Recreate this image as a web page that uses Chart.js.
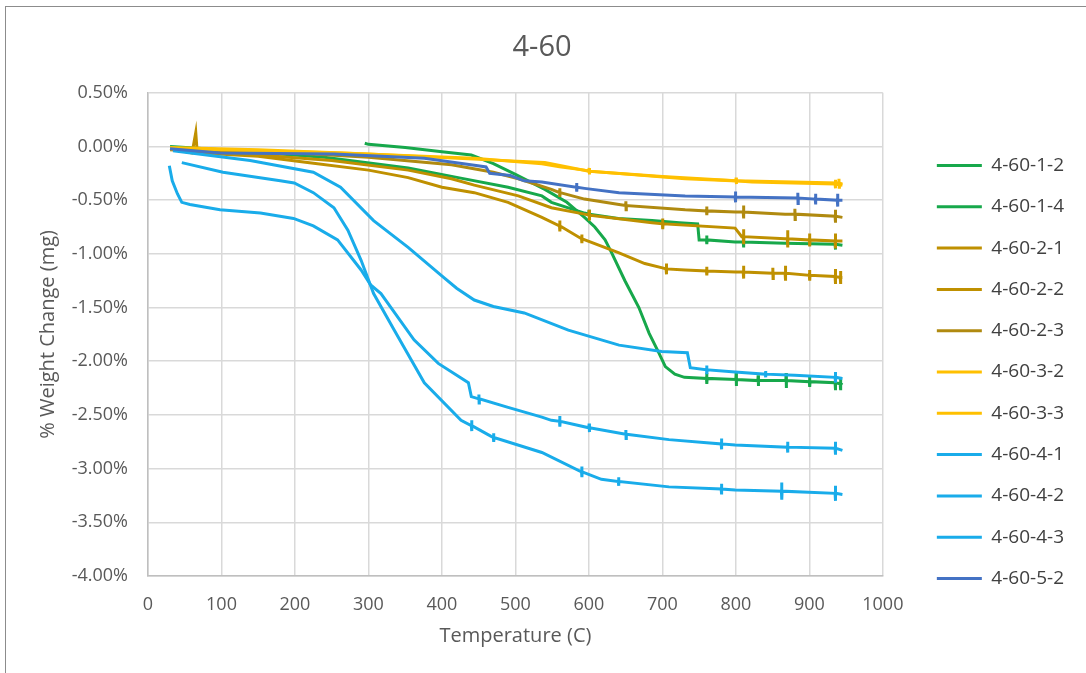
<!DOCTYPE html>
<html>
<head>
<meta charset="utf-8">
<script src="https://cdn.jsdelivr.net/npm/chart.js@4"></script>
<style>
  html, body { margin: 0; padding: 0; background: #ffffff; }
  #wrap { position: relative; width: 1086px; height: 673px; overflow: hidden; background: #ffffff; }
  #frame { position: absolute; left: 5px; top: 6px; width: 1200px; height: 800px; border: 1px solid #8c8c8c; box-sizing: border-box; }
  #c { position: absolute; left: 0; top: 0; }
</style>
</head>
<body>
<div id="wrap">
  <div id="frame"></div>
  <canvas id="c" width="1086" height="673"></canvas>
</div>
<script>
// ---- chart text ----
const chartTitle = '4-60';
const xTitle = 'Temperature (C)';
const yTitle = '% Weight Change (mg)';

// ---- series names ----
const seriesNames = ['4-60-1-2','4-60-1-4','4-60-2-1','4-60-2-2','4-60-2-3','4-60-3-2','4-60-3-3','4-60-4-1','4-60-4-2','4-60-4-3','4-60-5-2'];
const seriesColors = ['#17A84B','#17A84B','#BF9000','#BF9000','#B08A10','#FFC000','#FFC000','#19ACEA','#19ACEA','#19ACEA','#4472C4'];

// ---- data: [temperature C, % weight change] (narrow spikes) ----
const s_1_2 = [[295,0.03],[300,0.02],[350,-0.01],[400,-0.05],[440,-0.08],[470,-0.16],[500,-0.26],[540,-0.40],[570,-0.52],[594,-0.66],[608,-0.75],[622,-0.87],[631,-0.99],[649,-1.25],[668,-1.50],[682,-1.74],[695,-1.92],[704,-2.05],[717,-2.12],[730,-2.15],
  [760,-2.16],[760.3,-2.11],[760.6,-2.21],[760.9,-2.16],
  [800,-2.17],[800.3,-2.11],[800.6,-2.23],[800.9,-2.17],
  [830,-2.18],[830.3,-2.13],[830.6,-2.23],[830.9,-2.18],
  [868,-2.18],[868.3,-2.11],[868.6,-2.25],[868.9,-2.18],
  [900,-2.19],[900.3,-2.14],[900.6,-2.24],[900.9,-2.19],
  [935,-2.20],[935.3,-2.13],[935.6,-2.27],[935.9,-2.20],
  [942,-2.21],[942.3,-2.15],[942.6,-2.27],[942.9,-2.21],[945,-2.22]];
const s_1_4 = [[30,0.00],[100,-0.03],[240,-0.10],[354,-0.20],[422,-0.29],[490,-0.38],[536,-0.46],[549,-0.52],[594,-0.62],
  [600,-0.63],[600.3,-0.59],[600.6,-0.67],[600.9,-0.63],
  [640,-0.67],[686,-0.69],[723,-0.71],[748,-0.72],[750,-0.87],
  [760,-0.87],[760.3,-0.83],[760.6,-0.91],[760.9,-0.87],
  [799,-0.89],
  [810,-0.89],[810.3,-0.84],[810.6,-0.94],[810.9,-0.89],
  [867,-0.90],
  [935,-0.91],[935.3,-0.86],[935.6,-0.96],[935.9,-0.91],[945,-0.92]];
const s_2_1 = [[30,-0.02],[60,-0.06],[65,0.13],[67,-0.06],[150,-0.09],[217,-0.15],[300,-0.22],[354,-0.29],[400,-0.38],[444,-0.43],[490,-0.52],[536,-0.66],
  [560,-0.74],[560.3,-0.69],[560.6,-0.79],[560.9,-0.74],
  [590,-0.86],[590.3,-0.82],[590.6,-0.90],[590.9,-0.86],
  [641,-0.99],[676,-1.09],[700,-1.13],
  [705,-1.14],[705.3,-1.09],[705.6,-1.19],[705.9,-1.14],
  [731,-1.15],
  [760,-1.16],[760.3,-1.12],[760.6,-1.20],[760.9,-1.16],
  [800,-1.17],
  [810,-1.17],[810.3,-1.11],[810.6,-1.23],[810.9,-1.17],
  [850,-1.18],[850.3,-1.13],[850.6,-1.23],[850.9,-1.18],
  [867,-1.18],[867.3,-1.11],[867.6,-1.25],[867.9,-1.18],
  [900,-1.20],[900.3,-1.15],[900.6,-1.25],[900.9,-1.20],
  [935,-1.21],[935.3,-1.14],[935.6,-1.28],[935.9,-1.21],
  [942,-1.22],[942.3,-1.16],[942.6,-1.28],[942.9,-1.22],[945,-1.22]];
const s_2_2 = [[30,-0.03],[150,-0.08],[250,-0.13],[354,-0.22],[413,-0.30],[444,-0.36],[504,-0.46],[549,-0.57],[594,-0.63],
  [600,-0.64],[600.3,-0.59],[600.6,-0.69],[600.9,-0.64],
  [686,-0.71],
  [700,-0.72],[700.3,-0.67],[700.6,-0.77],[700.9,-0.72],
  [799,-0.76],[808,-0.84],
  [810,-0.84],[810.3,-0.77],[810.6,-0.91],[810.9,-0.84],
  [867,-0.86],
  [870,-0.86],[870.3,-0.78],[870.6,-0.94],[870.9,-0.86],
  [900,-0.87],[900.3,-0.81],[900.6,-0.93],[900.9,-0.87],
  [935,-0.88],[935.3,-0.81],[935.6,-0.95],[935.9,-0.88],[945,-0.88]];
const s_2_3 = [[30,-0.02],[200,-0.06],[300,-0.10],[413,-0.17],[470,-0.24],[504,-0.30],[549,-0.40],
  [560,-0.43],[560.3,-0.39],[560.6,-0.47],[560.9,-0.43],
  [594,-0.49],[641,-0.54],
  [650,-0.55],[650.3,-0.51],[650.6,-0.59],[650.9,-0.55],
  [731,-0.59],
  [760,-0.60],[760.3,-0.56],[760.6,-0.64],[760.9,-0.60],
  [800,-0.61],
  [810,-0.61],[810.3,-0.55],[810.6,-0.67],[810.9,-0.61],
  [867,-0.63],
  [880,-0.63],[880.3,-0.58],[880.6,-0.68],[880.9,-0.63],
  [935,-0.65],[935.3,-0.59],[935.6,-0.71],[935.9,-0.65],[945,-0.66]];
const s_3_2 = [[30,-0.02],[100,-0.03],[262,-0.06],[444,-0.11],[536,-0.16],[560,-0.19],[594,-0.22],
  [600,-0.23],[600.3,-0.20],[600.6,-0.26],[600.9,-0.23],
  [731,-0.30],
  [800,-0.32],[800.3,-0.29],[800.6,-0.35],[800.9,-0.32],
  [822,-0.33],
  [935,-0.35],[935.3,-0.31],[935.6,-0.39],[935.9,-0.35],[945,-0.36]];
const s_3_3 = [[30,-0.01],[150,-0.03],[300,-0.07],[450,-0.12],[540,-0.15],[600,-0.23],[700,-0.28],[800,-0.32],
  [940,-0.34],[940.3,-0.30],[940.6,-0.38],[940.9,-0.34],[945,-0.35]];
const s_4_1 = [[34,-0.04],[139,-0.13],[225,-0.24],[262,-0.38],[307,-0.69],[354,-0.94],[399,-1.20],[420,-1.32],[444,-1.43],[470,-1.49],[512,-1.55],[572,-1.71],[641,-1.85],[699,-1.91],[734,-1.92],[738,-2.06],
  [760,-2.08],[760.3,-2.04],[760.6,-2.12],[760.9,-2.08],
  [799,-2.10],
  [840,-2.12],[840.3,-2.09],[840.6,-2.15],[840.9,-2.12],
  [880,-2.13],
  [935,-2.15],[935.3,-2.10],[935.6,-2.20],[935.9,-2.15],[945,-2.16]];
const s_4_2 = [[29,-0.18],[33,-0.32],[40,-0.44],[46,-0.52],[57,-0.54],[98,-0.59],[153,-0.62],[198,-0.67],[225,-0.74],[258,-0.87],[290,-1.15],[303,-1.29],[317,-1.37],[362,-1.80],[395,-2.02],[436,-2.20],[440,-2.33],
  [450,-2.35],[450.3,-2.31],[450.6,-2.39],[450.9,-2.35],
  [490,-2.43],[536,-2.52],[549,-2.55],
  [560,-2.56],[560.3,-2.51],[560.6,-2.61],[560.9,-2.56],
  [600,-2.62],[600.3,-2.58],[600.6,-2.66],[600.9,-2.62],
  [650,-2.68],[650.3,-2.64],[650.6,-2.72],[650.9,-2.68],
  [709,-2.73],
  [780,-2.77],[780.3,-2.72],[780.6,-2.82],[780.9,-2.77],
  [799,-2.78],
  [870,-2.80],[870.3,-2.75],[870.6,-2.85],[870.9,-2.80],
  [935,-2.81],[935.3,-2.75],[935.6,-2.87],[935.9,-2.81],[945,-2.83]];
const s_4_3 = [[46,-0.15],[102,-0.24],[180,-0.32],[199,-0.34],[225,-0.43],[253,-0.57],[272,-0.78],[290,-1.06],[307,-1.37],[335,-1.71],[376,-2.20],[426,-2.55],
  [440,-2.60],[440.3,-2.55],[440.6,-2.65],[440.9,-2.60],
  [467,-2.70],
  [470,-2.71],[470.3,-2.67],[470.6,-2.75],[470.9,-2.71],
  [536,-2.85],
  [590,-3.03],[590.3,-2.98],[590.6,-3.08],[590.9,-3.03],
  [617,-3.10],
  [640,-3.12],[640.3,-3.08],[640.6,-3.16],[640.9,-3.12],
  [709,-3.17],
  [780,-3.19],[780.3,-3.14],[780.6,-3.24],[780.9,-3.19],
  [799,-3.20],
  [862,-3.21],[862.3,-3.13],[862.6,-3.29],[862.9,-3.21],
  [935,-3.23],[935.3,-3.16],[935.6,-3.30],[935.9,-3.23],[945,-3.24]];
const s_5_2 = [[30,-0.02],[98,-0.06],[253,-0.07],[376,-0.11],[449,-0.18],[460,-0.19],[465,-0.25],[493,-0.27],[512,-0.32],[536,-0.33],
  [583,-0.38],[583.3,-0.34],[583.6,-0.42],[583.9,-0.38],
  [594,-0.39],[641,-0.43],[731,-0.46],
  [799,-0.47],[799.3,-0.42],[799.6,-0.52],[799.9,-0.47],
  [884,-0.48],[884.3,-0.43],[884.6,-0.53],[884.9,-0.48],
  [908,-0.49],[908.3,-0.44],[908.6,-0.54],[908.9,-0.49],
  [938,-0.50],[938.3,-0.44],[938.6,-0.56],[938.9,-0.50],[945,-0.50]];
const seriesData = [s_1_2, s_1_4, s_2_1, s_2_2, s_2_3, s_3_2, s_3_3, s_4_1, s_4_2, s_4_3, s_5_2];

// ---- axis ticks ----
const xMin = 0, xMax = 1000, xStep = 100;
const yMin = -4, yMax = 0.5, yStep = 0.5;

const FONT = "'Open Sans', 'Noto Sans', sans-serif";
const n = seriesNames.length;
const datasets = seriesNames.map((name, i) => ({
  label: name,
  data: seriesData[i].map(p => ({x: p[0], y: p[1]})),
  borderColor: seriesColors[i],
  backgroundColor: seriesColors[i],
  borderWidth: 3,
  pointRadius: 0,
  showLine: true,
  tension: 0,
  order: n - i
}));

new Chart(document.getElementById('c'), {
  type: 'scatter',
  data: { datasets },
  options: {
    responsive: false,
    animation: false,
    events: [],
    layout: { padding: { left: 10, right: 12, top: 12, bottom: 25 } },
    plugins: {
      title: {
        display: true, text: chartTitle, color: '#595959',
        font: { family: FONT, size: 29, weight: 'normal' },
        padding: { top: 18, bottom: 28 }
      },
      legend: {
        position: 'right',
        title: { display: true, text: ' ', font: { family: FONT, size: 10 }, padding: { top: 0, bottom: 72 } },
        labels: {
          font: { family: FONT, size: 19 },
          color: '#404040',
          boxWidth: 45, boxHeight: 3, padding: 22.3,
          sort: (a, b) => a.datasetIndex - b.datasetIndex,
          generateLabels: (chart) => chart.data.datasets.map((d, i) => ({
            text: d.label, fillStyle: d.borderColor, strokeStyle: d.borderColor,
            lineWidth: 0, hidden: false, datasetIndex: i, fontColor: '#404040'
          }))
        }
      },
      tooltip: { enabled: false }
    },
    scales: {
      x: {
        type: 'linear', min: xMin, max: xMax,
        ticks: { stepSize: xStep, color: '#595959', padding: 18, font: { family: FONT, size: 18 },
                 callback: v => String(v) },
        grid: { color: '#d9d9d9', lineWidth: 1.5, drawTicks: false },
        border: { color: '#bfbfbf', width: 1.5 },
        title: { display: true, text: xTitle, color: '#595959', font: { family: FONT, size: 20 }, padding: { top: 8, bottom: 0 } },
        afterFit: s => { s.height = 72; }
      },
      y: {
        type: 'linear', min: yMin, max: yMax,
        ticks: { stepSize: yStep, color: '#595959', padding: 20, font: { family: FONT, size: 18 },
                 callback: v => v.toFixed(2) + '%' },
        grid: { color: '#d9d9d9', lineWidth: 1.5, drawTicks: false },
        border: { color: '#bfbfbf', width: 1.5 },
        title: { display: true, text: yTitle, color: '#595959', font: { family: FONT, size: 20 }, padding: { top: 26, bottom: 11 } },
        afterFit: s => { s.width = 138; }
      },
      gap: {
        type: 'linear', position: 'right', display: true,
        grid: { display: false, drawTicks: false }, ticks: { display: false }, border: { display: false },
        afterFit: s => { s.width = 31.7; }
      }
    }
  }
});
</script>
</body>
</html>
